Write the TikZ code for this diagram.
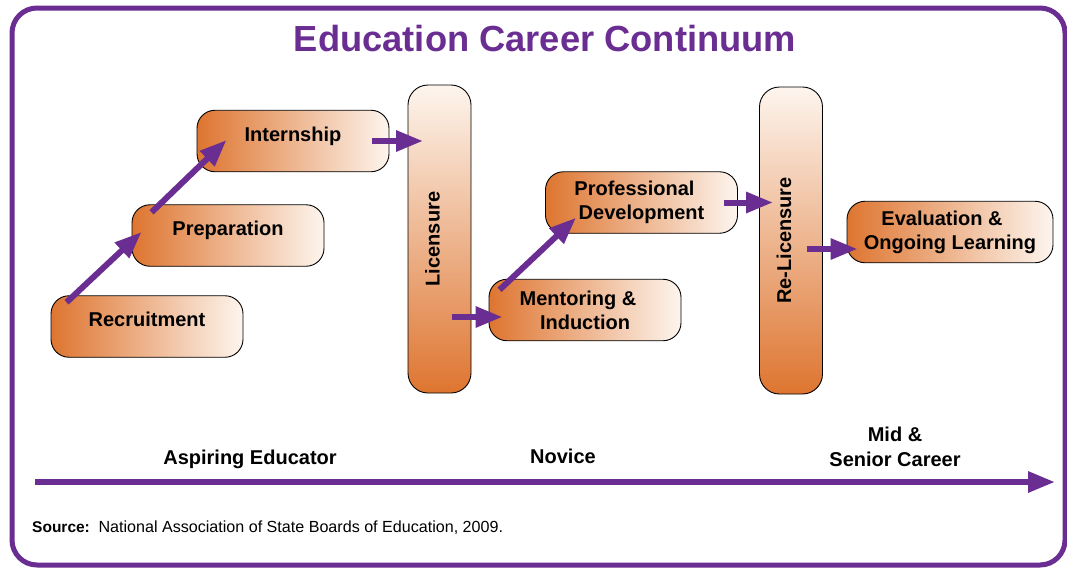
\documentclass[tikz,border=0pt]{standalone}
\usepackage{fontspec}
\setmainfont{Liberation Sans}
\usetikzlibrary{arrows.meta,calc}

\definecolor{edupurple}{RGB}{106,45,145}
\definecolor{eduorange}{RGB}{222,117,48}
\definecolor{edulight}{RGB}{253,245,238}

\begin{document}
\begin{tikzpicture}[x=1pt, y=-1pt,
	stage/.style={draw=black, line width=0.9pt, rounded corners=18pt, left color=eduorange, right color=edulight, minimum width=192pt, minimum height=61.5pt, inner sep=0pt, align=center, font=\bfseries\fontsize{20}{24}\selectfont},
	oneline/.style={text height=14pt, text depth=14pt},
	gate/.style={stage, oneline, rotate=90, top color=edulight, bottom color=eduorange, minimum width=308pt, minimum height=63pt, rounded corners=20pt},
	flow/.style={draw=edupurple, line width=6pt, -{Triangle[length=27pt, width=20pt]}},
	phase/.style={inner sep=0pt, align=center, font=\bfseries\fontsize{20}{25}\selectfont}]
\useasboundingbox (0,0) rectangle (1067,568);

% frame and title
\draw[edupurple, line width=5pt, rounded corners=25pt] (12,8) rectangle (1065,565);
\node[anchor=base, inner sep=0pt, text=edupurple, font=\bfseries\fontsize{36.3}{40}\selectfont] (title) at (545,51) {Education Career Continuum};

% stages
\node[stage, oneline] (rec) at (147,326.5) {Recruitment};
\node[stage, oneline] (prep) at (228,235.5) {Preparation};
\node[stage, oneline] (intern) at (293,141) {Internship};
\node[gate] (lic) at (439.5,239) {Licensure};
\node[stage] (mentor) at (585,310) {Mentoring \&\kern14pt\\Induction};
\node[stage] (profdev) at (641.5,202.5) {Professional\kern14pt\\Development};
\node[gate, minimum width=307pt] (relic) at (791,240.5) {Re-Licensure};
\node[stage, minimum width=206pt] (evalu) at (950,232) {Evaluation \&\kern16pt\\Ongoing Learning};

% arrows between stages
\draw[flow] ($(rec.north west)+(16,7)$) -- ($(prep.west)+(10,-3.5)$);
\draw[flow] ($(prep.north west)+(20,8)$) -- ($(intern.west)+(30,-1)$);
\draw[flow] ($(intern.east)+(-17,0)$) -- ($(intern.east -| lic.center)+(-16.5,0)$);
\draw[flow] ($(mentor.west)+(-37,7)$) -- ($(mentor.west)+(14,7)$);
\draw[flow] ($(mentor.north west)+(11,11)$) -- ($(profdev.south west)+(31,-16)$);
\draw[flow] ($(profdev.east)+(-14,0)$) -- ($(profdev.east -| relic.center)+(-18,0)$);
\draw[flow] ($(evalu.west)+(-40,17)$) -- ($(evalu.west)+(11,17)$);

% career line
\coordinate (tlstart) at (35,482);
\coordinate (tlend) at (1055,482);
\draw[flow] (tlstart) -- (tlend);
\node[phase, anchor=base] (aspiring) at (250,464) {Aspiring Educator};
\node[phase, anchor=base] (novice) at (563,463) {Novice};
\node[phase, anchor=north] (senior) at (895,427) {Mid \&\\Senior Career};

\node[anchor=base west, inner sep=0pt, font=\fontsize{15.5}{18}\selectfont] (source) at (32,532) {\textbf{Source:}\ \ \fontsize{16.1}{18}\selectfont National Association of State Boards of Education, 2009.};
\end{tikzpicture}
\end{document}
